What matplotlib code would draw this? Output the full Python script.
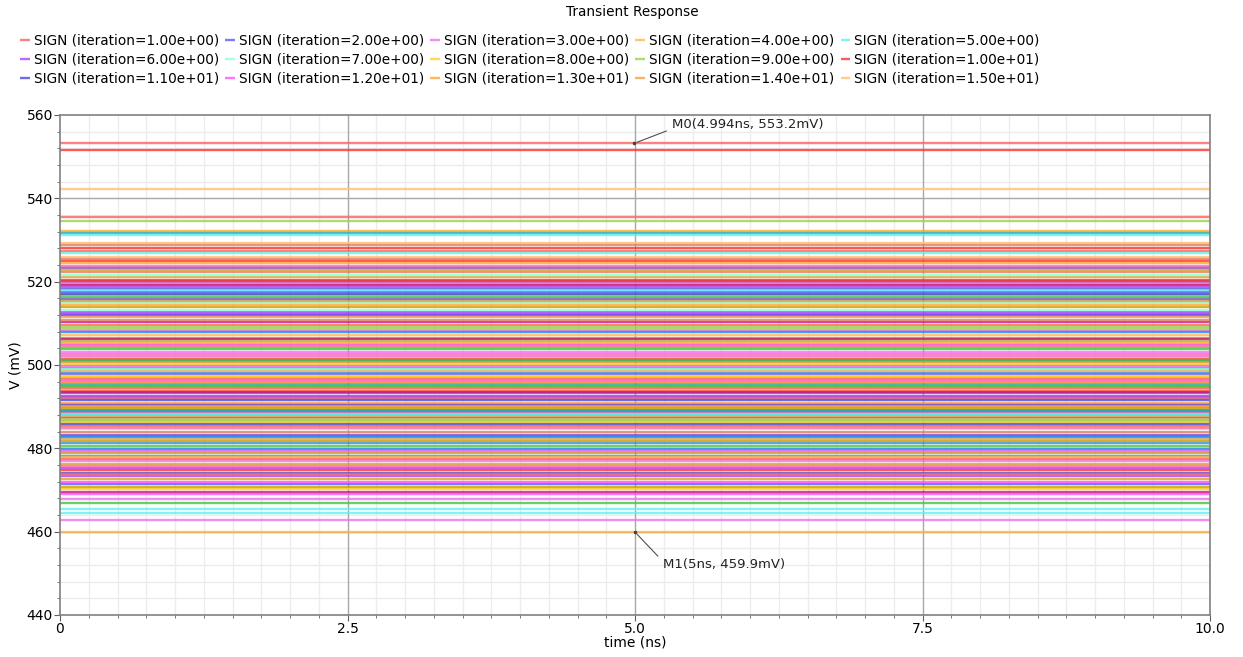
import matplotlib as mpl
mpl.use('Agg')
import matplotlib.pyplot as plt
from matplotlib.ticker import MultipleLocator

# time span of the transient run (ns)
t_span = [0.0, 10.0]

# settled SIGN level per Monte Carlo iteration (mV), in iteration order
sign_mv = [
    553.2, 489.3, 462.8, 460.0, 464.4, 512.8, 484.6, 500.3, 516.9, 551.6,
    474.1, 508.2, 505.1, 519.4, 542.3, 502.6, 480.5, 513.9, 493.2, 498.9,
    482.9, 476.3, 510.4, 478.2, 504.2, 535.4, 517.6, 490.5, 507.3, 465.4,
    475.2, 514.8, 494.1, 534.6, 501.4, 518.3, 496.2, 532.2, 511.6, 489.8,
    519.9, 466.9, 506.5, 492.6, 485.3, 531.7, 515.4, 488.7, 498.2, 483.8,
    509.6, 520.2, 467.8, 494.7, 531.1, 500.9, 513.1, 486.2, 505.8, 474.7,
    517.1, 469.0, 497.0, 482.3, 529.2, 488.4, 503.8, 478.9, 515.9, 493.7,
    499.3, 521.1, 469.5, 507.9, 528.7, 495.6, 512.3, 476.9, 501.9, 487.1,
    518.8, 491.9, 470.2, 509.1, 528.0, 485.8, 504.7, 514.3, 490.8, 498.5,
    475.7, 516.4, 470.8, 483.3, 527.4, 488.9, 500.6, 519.1, 481.2, 510.8,
    494.4, 471.4, 502.2, 477.9, 526.8, 492.3, 499.0, 486.5, 508.6, 520.5,
    490.3, 471.9, 505.5, 496.0, 526.0, 484.9, 501.1, 489.6, 511.9, 473.9,
    495.3, 472.6, 506.2, 482.6, 525.5, 492.0, 497.8, 503.0, 487.3, 518.0,
    473.3, 521.6, 497.4, 486.8, 525.0, 491.7, 479.4, 524.4, 490.1, 480.1,
    523.8, 495.0, 481.7, 523.3, 477.4, 488.1, 522.8, 493.4, 479.8, 522.3,
    496.7, 487.5, 499.7, 487.8, 488.2,
]

# waveform colour cycle
palette = [
    '#ff6060', '#5a5aff', '#f070f0', '#ffb84a', '#60f0f0',
    '#b040ff', '#90ffd8', '#ffd21e', '#96d448', '#ff3030',
    '#4848e0', '#ff50ff', '#ffa830', '#f4a040', '#ffc070',
    '#ff69b4', '#3cc83c', '#c8a000', '#8a4be2', '#ff6347',
    '#20b2aa', '#daa520', '#c71585', '#1e90ff', '#e08060',
]

plt.rcdefaults()
plt.rcParams['font.family'] = 'DejaVu Sans'

fig = plt.figure(figsize=(12.43, 6.57), dpi=100)
ax = fig.add_axes([60/1243, 42/657, 1150/1243, 500/657])

lines = []
for i, v in enumerate(sign_mv):
    ln, = ax.plot(t_span, [v, v], color=palette[i % len(palette)], lw=1.7,
                  alpha=0.8, solid_capstyle='butt', zorder=2,
                  label="SIGN (iteration=%.2e)" % (i + 1))
    lines.append(ln)

xmajor = [0, 2.5, 5, 7.5, 10]
ymajor = list(range(440, 561, 20))
ax.set_xlim(0, 10)
ax.set_ylim(440, 560)
ax.set_xticks(xmajor)
ax.set_xticklabels(['0', '2.5', '5.0', '7.5', '10.0'])
ax.set_yticks(ymajor)
ax.xaxis.set_minor_locator(MultipleLocator(0.25))
ax.yaxis.set_minor_locator(MultipleLocator(4))
ax.set_axisbelow(True)
# light minor grid from the axes, darker major grid drawn over it
ax.grid(which='minor', color='#ececec', lw=1)
for x in xmajor[1:-1]:
    ax.axvline(x, color='#a8a8a8', lw=1, zorder=1)
for y in ymajor[1:-1]:
    ax.axhline(y, color='#a8a8a8', lw=1, zorder=1)
ax.tick_params(which='both', direction='out', color='#606060', labelsize=10, pad=1)
ax.tick_params(which='major', length=4)
ax.tick_params(which='minor', length=2.5)
for sp in ax.spines.values():
    sp.set_color('#808080')
    sp.set_linewidth(1.2)

ax.set_xlabel('time (ns)', fontsize=10, labelpad=0)
ax.set_ylabel('V (mV)', fontsize=10, labelpad=3)

# markers
ax.plot([4.994], [553.2], marker='.', ms=3, color='#404040', zorder=4)
ax.annotate('M0(4.994ns, 553.2mV)', xy=(4.994, 553.2), xytext=(5.32, 557.6),
            fontsize=9.5, va='center', ha='left', color='#222222', zorder=4,
            arrowprops=dict(arrowstyle='-', color='#505050', lw=0.8, relpos=(0, 0.2)))
ax.plot([5.0], [459.9], marker='.', ms=3, color='#404040', zorder=4)
ax.annotate('M1(5ns, 459.9mV)', xy=(5.0, 459.9), xytext=(5.24, 452.0),
            fontsize=9.5, va='center', ha='left', color='#222222', zorder=4,
            arrowprops=dict(arrowstyle='-', color='#505050', lw=0.8, relpos=(0, 0.8)))

fig.text(0.5085, 1 - 12/657, 'Transient Response', ha='center', va='center', fontsize=9.8)

# legend shows the first 15 iterations, filled row by row
shown = lines[:15]
order = [r * 5 + c for c in range(5) for r in range(3)]
fig.legend([shown[k] for k in order], [shown[k].get_label() for k in order],
           ncol=5, loc='upper left', bbox_to_anchor=(15/1243, 1 - 28/657),
           frameon=False, fontsize=9.8, handlelength=0.7, handletextpad=0.3,
           columnspacing=0.45, labelspacing=0.38, borderaxespad=0)

plt.savefig('out.png', dpi=100)
